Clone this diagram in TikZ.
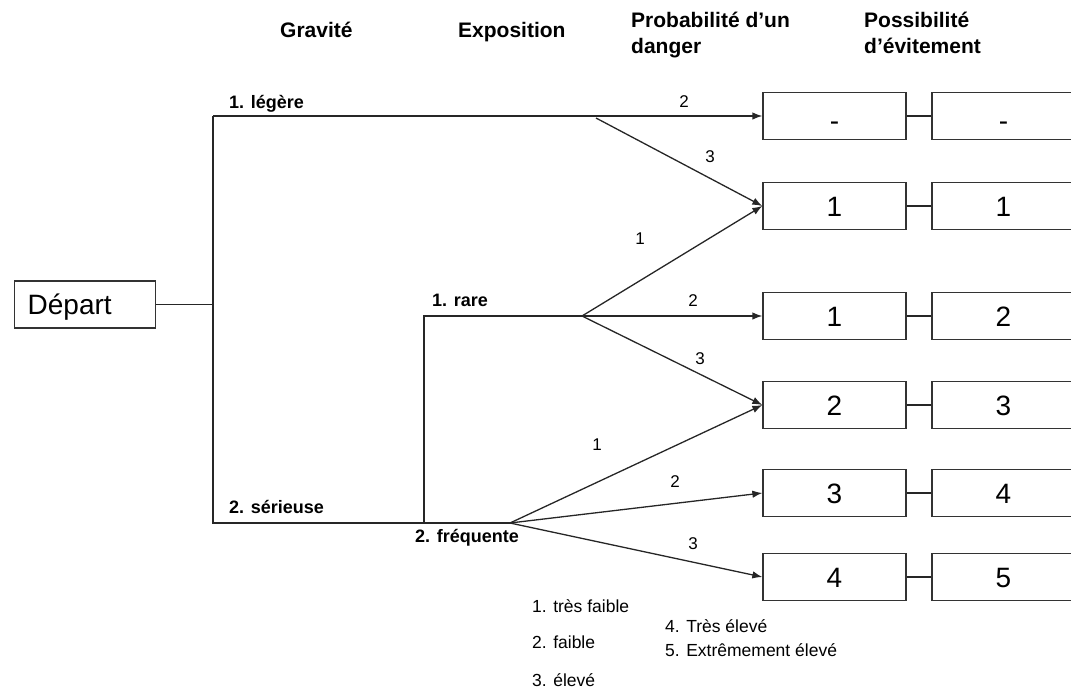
\documentclass[tikz,border=0pt]{standalone}
\usepackage{fontspec}
\setmainfont{Liberation Sans}
\usetikzlibrary{arrows.meta}
\begin{document}
\begin{tikzpicture}[x=1pt,y=-1pt,
  ln/.style={line width=1.3pt, draw=black!85},
  arr/.style={ln,-{Latex[length=10pt,width=7.5pt]}},
  box/.style={draw=black!80,line width=1.3pt,minimum width=143pt,minimum height=47pt,inner sep=0pt,
    text height=20.5pt,text depth=0pt,font=\fontsize{28}{30}\selectfont},
  lab/.style={font=\bfseries\fontsize{18}{20}\selectfont,anchor=base west,inner sep=0pt},
  hdr/.style={font=\bfseries\fontsize{21}{24}\selectfont,anchor=base west,inner sep=0pt},
  num/.style={font=\fontsize{17}{19}\selectfont,inner sep=0pt},
  leg/.style={font=\fontsize{17.5}{20}\selectfont,anchor=base west,inner sep=0pt}]
\useasboundingbox (0,0) rectangle (1071,689);
\clip (0,0) rectangle (1071,689);

% headers
\node[hdr] (hg) at (280,37) {Gravité};
\node[hdr] (he) at (458,37) {Exposition};
\node[hdr] (hp1) at (631,27) {Probabilité d’un};
\node[hdr] (hp2) at (631,53) {danger};
\node[hdr] (hv1) at (864,27) {Possibilité};
\node[hdr] (hv2) at (864,53) {d’évitement};

% start box
\node[box,minimum width=141pt,text width=115pt,align=left,inner xsep=13pt,anchor=west] (dep) at (14,304.5) {Départ};

% result boxes
\node[box] (a1) at (834.5,116) {\raisebox{-4pt}{-}};
\node[box] (b1) at (1003.5,116) {\raisebox{-4pt}{-}};
\draw[ln] (a1.east) -- (b1.west);
\foreach \i/\y/\p/\q in {2/206/1/1,3/316/1/2,4/405/2/3,5/493/3/4,6/577/4/5}{
  \node[box] (a\i) at (834.5,\y) {\p};
  \node[box] (b\i) at (1003.5,\y) {\q};
  \draw[ln] (a\i.east) -- (b\i.west);
}

% junctions
\coordinate (gtop) at (213,116);
\coordinate (gbot) at (213,523);
\coordinate (ej) at (424,523);
\coordinate (etop) at (424,316);
\coordinate (rare) at (582,316);
\coordinate (freq) at (510,523);
\coordinate (lsplit) at (596,118);

\draw[ln] (dep.east) -- (dep.east -| gtop);
\draw[ln] (gtop) -- (gbot) -- (freq);
\draw[ln] (ej) -- (etop) -- (rare);
\draw[arr] (gtop) -- (a1.west);
\draw[arr] (lsplit) -- (a2.west);
\draw[arr] (rare) -- (a2.west);
\draw[arr] (rare) -- (a3.west);
\draw[arr] (rare) -- (a4.west);
\draw[arr] (freq) -- (a4.west);
\draw[arr] (freq) -- (a5.west);
\draw[arr] (freq) -- (a6.west);

% branch labels
\node[lab] (ll) at (229,108) {1. légère};
\node[lab] (ls) at (229,513) {2. sérieuse};
\node[lab] (lr) at (432,306) {1. rare};
\node[lab] (lf) at (415,542) {2. fréquente};

% arrow labels
\node[num] (n12) at (684,102) {2};
\node[num] (n13) at (710,157) {3};
\node[num] (n21) at (640,239) {1};
\node[num] (n22) at (693,301) {2};
\node[num] (n23) at (700,359) {3};
\node[num] (n31) at (597,445) {1};
\node[num] (n32) at (675,482) {2};
\node[num] (n33) at (693,544) {3};

% legend
\node[leg] (g1) at (532,612.5) {1. très faible};
\node[leg] (g2) at (532,648) {2. faible};
\node[leg] (g3) at (532,686) {3. élevé};
\node[leg] (g4) at (665,632) {4. Très élevé};
\node[leg] (g5) at (665,656) {5. Extrêmement élevé};
\end{tikzpicture}
\end{document}
